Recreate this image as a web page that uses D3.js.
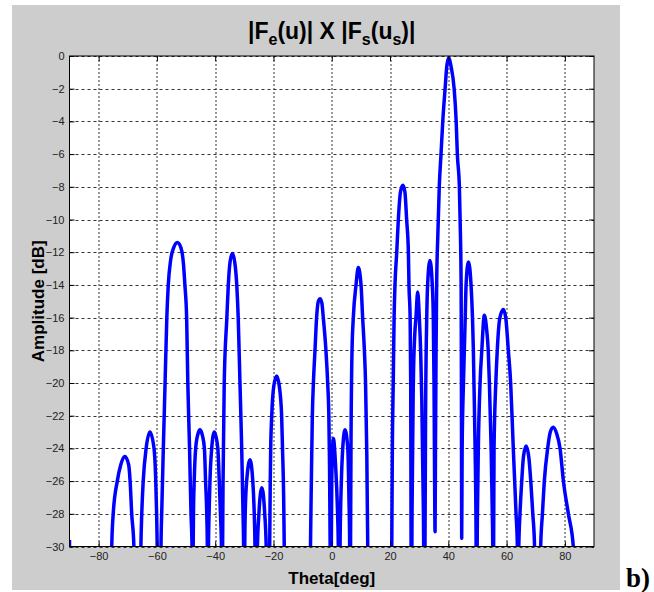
<!DOCTYPE html>
<html>
<head>
<meta charset="utf-8">
<script src="https://cdn.jsdelivr.net/npm/d3@7/dist/d3.min.js"></script>
<style>
body { margin: 0; background: #fff; }
</style>
</head>
<body>
<svg id="pattern-chart"></svg>
<script>
// pattern data (values below -30 dB are clipped by the axes)
var thetaDeg = [
-90, -89.3,
-76.2, -75.5, -75, -73.6, -72.4, -71, -69.7, -69.2, -68.65, -67.9, -67.3,
-66.1, -65.5, -65.2, -64.7, -63.7, -62.4, -61.0, -60.4, -60.1, -59.9, -59.4,
-59.0, -58.6, -58.36, -57.8, -57.2, -56.6, -56.1, -55.3, -54.2, -53, -51.8, -50.9, -50.4, -49.8, -49.4, -48.8, -48.3, -47.95,
-47.75,
-47.55, -47.45, -47.2, -46.7, -45.9, -45.2, -44.4, -43.7, -43.3, -42.9, -42.7,
-42.5,
-42.3, -42.1, -41.8, -41.2, -40.3, -39.1, -38.6, -38.2, -37.85,
-37.65,
-37.45, -37.3, -36.9, -36.0, -35.5, -34.9, -34.1, -33.3, -32.6, -32.1, -31.5, -30.9, -30.45, -30.25,
-30.05,
-29.85, -29.7, -29.2, -28.05, -27.1, -26.6, -26.35,
-26.0,
-25.5, -25.0, -24.0, -23.0, -22.5,
-22.1,
-21.3, -21.1, -20.95, -20.6, -19.9, -18.9, -18.0, -17.2, -16.9, -16.5, -16.3, -15.9,
-7.8, -7.3, -7.0, -6.66, -6.3, -5.75, -5.2, -4.6, -4.0, -3.4, -2.9, -2.0, -1.4, -1.0, -0.8, -0.55,
-0.35,
-0.15, 0.0, 0.55, 1.3, 2.0, 2.25,
2.55,
2.85, 3.3, 3.77, 4.55, 5.5, 5.9, 6.15,
6.3,
6.45, 6.6, 6.96, 7.4, 8.33, 9.12, 10.05, 10.6, 11.2, 11.6, 12.0, 12.35, 12.7,
20.2, 20.6, 20.8, 21.1, 21.4, 21.7, 22.3, 22.85, 23.6, 24.4, 25.1, 25.7, 26.3, 26.5, 26.9, 27.1, 27.2,
27.35,
27.55, 28.0, 28.5, 28.9, 29.5, 30.05, 30.5, 30.9, 31.3, 31.55,
31.75,
32.0, 32.2, 32.6, 32.9, 33.7, 34.5, 34.85, 35.1, 35.3, 35.45,
35.6, 35.8, 36.0, 36.4, 36.9, 37.5, 38.1, 38.9, 39.5, 40.2, 40.9, 42.0, 42.7, 43.1, 43.8, 44.05, 44.4, 44.5, 44.6,
44.75, 45.2, 45.5, 45.8, 46.1, 46.9, 47.8, 48.3, 48.6, 48.8, 49.2, 49.55,
49.75,
49.9, 50.0, 50.3, 50.9, 51.5, 52.36, 53.2, 53.7, 54.1, 54.7, 55.1, 55.25,
55.4,
55.55, 55.7, 56.3, 56.8, 57.7, 58.9, 59.7, 60.6, 61.4, 62.3, 63.25, 63.7,
63.95,
64.2, 64.6, 65.2, 65.8, 66.7, 67.6, 68.3, 69.0, 69.6, 70.0,
71.3, 71.7, 72.3, 72.95, 74.1, 75.0, 76.0, 77.2, 78.35, 79.5, 81.2, 82.9, 83.5, 90
];

var amplitudeDb = [
-29.6, -42,
-42, -30, -28, -26, -25, -24.5, -25, -26, -28, -30, -42,
-42, -30, -28, -26, -24, -23.0, -24, -26, -28, -30, -42,
-42, -30, -28, -24, -20, -16, -14, -12.5, -11.7, -11.4, -11.7, -12.7, -14, -16, -20, -24, -28, -30,
-42,
-30, -28, -26, -24, -23.1, -22.86, -23.2, -24, -26, -28, -30,
-40,
-30, -28, -26, -24, -23.0, -24, -26, -28, -30,
-42,
-30, -26, -20, -16, -14, -12.6, -12.08, -12.6, -14, -16, -20, -24, -28, -30,
-42,
-30, -28, -26, -24.7, -26, -28, -30,
-40,
-30, -28, -26.4, -28, -30,
-42,
-30, -26, -24, -22, -20.2, -19.57, -20.2, -22, -24, -27, -30, -42,
-42, -30, -26, -22, -20, -18, -16, -15.0, -14.84, -15.1, -16, -18, -20, -22, -24.5, -30,
-42,
-30, -26, -23.4, -25, -28, -30,
-42,
-30, -26, -24, -22.86, -24, -27, -30,
-40,
-30, -24, -18, -16, -14, -12.94, -14, -16, -18, -20, -24, -30, -42,
-42, -30, -24, -20, -16, -14, -12, -10, -8.3, -7.9, -8.3, -10, -12, -14, -16, -20, -28,
-36,
-28, -20, -17, -16, -14.43, -16, -18, -21, -26, -30,
-40,
-30, -22, -16, -14, -12.5, -14, -16, -20, -26, -29.1,
-24, -18, -14, -11, -8, -6, -4, -2, -0.6, -0.1, -0.6, -2, -4, -6, -8, -10, -14, -20, -29.5,
-24, -20, -18, -16, -14, -12.6, -14, -16, -18, -20, -24, -30,
-40,
-30, -28, -24, -20, -18, -15.86, -16.8, -18, -20, -24, -28, -30,
-40,
-30, -24, -20, -18, -16, -15.5, -16, -18, -20, -24, -28, -30,
-42,
-30, -28, -26, -24.5, -23.86, -24.5, -26, -28, -30, -42,
-42, -30, -28, -26, -24, -23.0, -22.7, -23.1, -24, -26, -28, -30, -42, -42
];

var xTicks = [-80, -60, -40, -20, 0, 20, 40, 60, 80];
var yTicks = [0, -2, -4, -6, -8, -10, -12, -14, -16, -18, -20, -22, -24, -26, -28, -30];

var data = thetaDeg.map(function(t, i){ return {theta: t, amp: amplitudeDb[i]}; });

//dimensions and margins of the graph
var W = 654, H = 592;
var margin = {top:56, right:60, bottom:45.5, left:69.5},
width = W - margin.left - margin.right,
height = H - margin.top - margin.bottom;

var svg = d3.select("#pattern-chart")
.attr("width", W)
.attr("height", H)
.style("display", "block");

// matlab figure background
svg.append("rect")
.attr("x", 12).attr("y", 5)
.attr("width", 608).attr("height", 585)
.attr("fill", "#cdcdcd");

var g = svg.append("g")
.attr("transform", "translate(" + margin.left + "," + margin.top + ")");

var x = d3.scaleLinear().domain([-90, 90]).range([0, width]);
var y = d3.scaleLinear().domain([-30, 0]).range([height, 0]);

// plot area
g.append("rect")
.attr("width", width).attr("height", height)
.attr("fill", "#fff");

// grid
g.append("g")
.selectAll("line")
.data(yTicks)
.enter()
.append("line")
.attr("x1", 0).attr("x2", width)
.attr("y1", function(d){ return Math.round(y(d)) + 0.5; })
.attr("y2", function(d){ return Math.round(y(d)) + 0.5; })
.attr("stroke", "#333")
.attr("stroke-dasharray", "3,3");

g.append("g")
.selectAll("line")
.data(xTicks)
.enter()
.append("line")
.attr("y1", 0).attr("y2", height)
.attr("x1", function(d){ return Math.round(x(d)) + 0.5; })
.attr("x2", function(d){ return Math.round(x(d)) + 0.5; })
.attr("stroke", "#333")
.attr("stroke-dasharray", "2,2");

// the pattern
g.append("clipPath").attr("id", "clip")
.append("rect").attr("width", width).attr("height", height);

var line = d3.line()
.x(function(d){ return x(d.theta); })
.y(function(d){ return y(d.amp); })
.curve(d3.curveMonotoneX);

g.append("path")
.datum(data)
.attr("clip-path", "url(#clip)")
.attr("d", line)
.attr("fill", "none")
.attr("stroke", "#0000ff")
.attr("stroke-width", 3.5)
.attr("stroke-linejoin", "round");

// axes, ticks pointing inward
function styleAxis(sel){
  sel.selectAll("text")
  .style("font-family", "'Liberation Sans', Arial, sans-serif")
  .style("font-size", "11px")
  .attr("fill", "#222");
  sel.selectAll("line").attr("stroke", "#000");
  sel.select(".domain").attr("stroke", "none");
}

g.append("g")
.attr("transform", "translate(0," + height + ")")
.call(d3.axisBottom(x).tickValues(xTicks).tickSize(-5).tickPadding(6))
.call(styleAxis);

g.append("g")
.call(d3.axisTop(x).tickValues(xTicks).tickSize(-5).tickFormat(""))
.call(styleAxis);

g.append("g")
.call(d3.axisLeft(y).tickValues(yTicks).tickSize(-5).tickPadding(5).tickFormat(d3.format("d")))
.call(styleAxis);

g.append("g")
.attr("transform", "translate(" + width + ",0)")
.call(d3.axisRight(y).tickValues(yTicks).tickSize(-5).tickFormat(""))
.call(styleAxis);

// box
g.append("rect")
.attr("width", width).attr("height", height)
.attr("fill", "none")
.attr("stroke", "#000");

// labels
var title = svg.append("text")
.attr("x", margin.left + width / 2)
.attr("y", 39)
.attr("text-anchor", "middle")
.style("font-family", "'Liberation Sans', Arial, sans-serif")
.style("font-weight", "bold")
.style("font-size", "23px");
title.append("tspan").text("|F");
title.append("tspan").attr("dy", 6).style("font-size", "16px").text("e");
title.append("tspan").attr("dy", -6).text("(u)| X |F");
title.append("tspan").attr("dy", 6).style("font-size", "16px").text("s");
title.append("tspan").attr("dy", -6).text("(u");
title.append("tspan").attr("dy", 6).style("font-size", "16px").text("s");
title.append("tspan").attr("dy", -6).text(")|");

svg.append("text")
.attr("x", margin.left + width / 2)
.attr("y", 584)
.attr("text-anchor", "middle")
.style("font-family", "'Liberation Sans', Arial, sans-serif")
.style("font-weight", "bold")
.style("font-size", "17px")
.text("Theta[deg]");

svg.append("text")
.attr("transform", "translate(44," + (margin.top + height / 2) + ")rotate(-90)")
.attr("text-anchor", "middle")
.style("font-family", "'Liberation Sans', Arial, sans-serif")
.style("font-weight", "bold")
.style("font-size", "17px")
.text("Amplitude [dB]");

svg.append("text")
.attr("x", 626)
.attr("y", 587)
.style("font-family", "'Liberation Serif', 'Times New Roman', serif")
.style("font-weight", "bold")
.style("font-size", "27px")
.text("b)");
</script>
</body>
</html>
